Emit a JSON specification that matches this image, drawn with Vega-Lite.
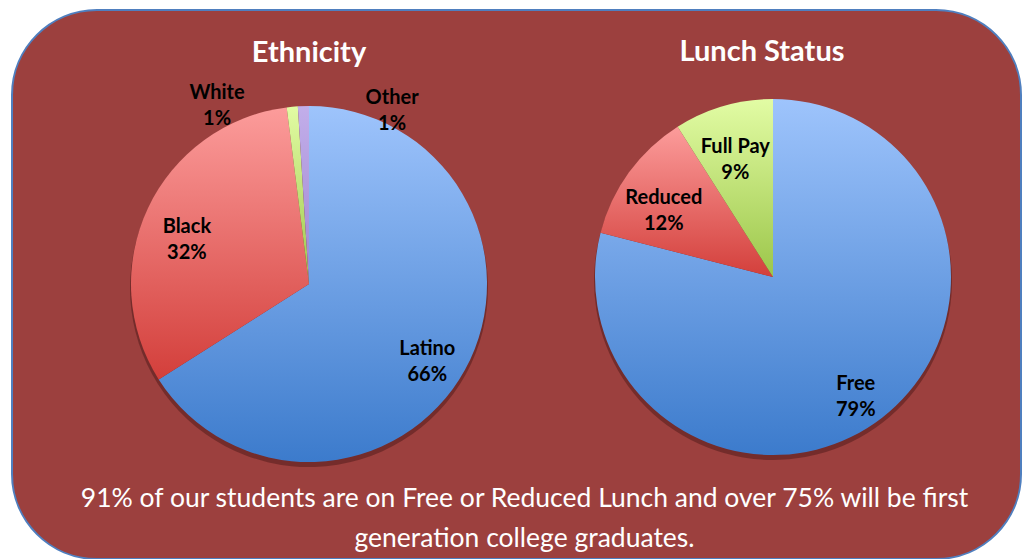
{
  "$schema": "https://vega.github.io/schema/vega-lite/v6.json",
  "width": 1009,
  "height": 549,
  "padding": {"left": 12, "top": 10, "right": 8, "bottom": 0},
  "background": "#ffffff",
  "config": {
    "view": {"fill": "#9C403E", "stroke": "#4F7FBF", "strokeWidth": 2, "cornerRadius": 85}
  },
  "title": {
    "text": ["91% of our students are on Free or Reduced Lunch and over 75% will be first", "generation college graduates."],
    "orient": "bottom",
    "anchor": "middle",
    "frame": "group",
    "offset": -73,
    "dx": 8,
    "color": "#ffffff",
    "font": "Lato",
    "fontSize": 26.5,
    "fontWeight": "normal",
    "lineHeight": 40
  },
  "data": {
    "values": [
      {"chart": "Ethnicity", "category": "Latino", "value": 66, "order": 1},
      {"chart": "Ethnicity", "category": "Black", "value": 32, "order": 2},
      {"chart": "Ethnicity", "category": "White", "value": 1, "order": 3},
      {"chart": "Ethnicity", "category": "Other", "value": 1, "order": 4},
      {"chart": "Lunch Status", "category": "Free", "value": 79, "order": 1},
      {"chart": "Lunch Status", "category": "Reduced", "value": 12, "order": 2},
      {"chart": "Lunch Status", "category": "Full Pay", "value": 9, "order": 3}
    ]
  },
  "transform": [
    {"stack": "value", "groupby": ["chart"], "sort": [{"field": "order", "order": "ascending"}], "as": ["start", "end"]},
    {"calculate": "(datum.start + datum.end) / 2", "as": "mid"},
    {"calculate": "datum.category + '\\n' + datum.value + '%'", "as": "label"}
  ],
  "encoding": {
    "x": {"field": "chart", "type": "nominal", "scale": {"type": "point", "padding": 0, "domain": ["Ethnicity", "Lunch Status"], "range": [297, 761]}, "axis": null},
    "y": {"field": "chart", "type": "nominal", "scale": {"type": "point", "padding": 0, "domain": ["Ethnicity", "Lunch Status"], "range": [274, 267]}, "axis": null}
  },
  "layer": [
    {
      "mark": {"type": "arc", "outerRadius": 179, "yOffset": 4, "fill": "#2a0808", "opacity": 0.35},
      "encoding": {
        "theta": {"field": "start", "type": "quantitative", "stack": null, "scale": {"domain": [0, 100]}},
        "theta2": {"field": "end"}
      }
    },
    {
      "mark": {"type": "arc", "outerRadius": 178},
      "encoding": {
        "theta": {"field": "start", "type": "quantitative", "stack": null, "scale": {"domain": [0, 100]}},
        "theta2": {"field": "end"},
        "fill": {
          "condition": [
            {"test": "datum.category === 'Latino' || datum.category === 'Free'", "value": {"gradient": "linear", "x1": 0, "y1": 0, "x2": 0, "y2": 1, "stops": [{"offset": 0, "color": "#9EC4FC"}, {"offset": 1, "color": "#3C7BCC"}]}},
            {"test": "datum.category === 'Black' || datum.category === 'Reduced'", "value": {"gradient": "linear", "x1": 0, "y1": 0, "x2": 0, "y2": 1, "stops": [{"offset": 0, "color": "#FC9C9B"}, {"offset": 1, "color": "#D33F3B"}]}},
            {"test": "datum.category === 'White' || datum.category === 'Full Pay'", "value": {"gradient": "linear", "x1": 0, "y1": 0, "x2": 0, "y2": 1, "stops": [{"offset": 0, "color": "#E2FCA4"}, {"offset": 1, "color": "#9CC64A"}]}}
          ],
          "value": {"gradient": "linear", "x1": 0, "y1": 0, "x2": 0, "y2": 1, "stops": [{"offset": 0, "color": "#C2AEEA"}, {"offset": 1, "color": "#9E86D0"}]}
        }
      }
    },
    {
      "transform": [{"filter": "datum.value >= 5"}],
      "mark": {"type": "text", "radius": 135, "font": "Lato", "fontSize": 20, "fontWeight": "bold", "color": "#000000", "lineBreak": "\n", "lineHeight": 26, "align": "center", "baseline": "middle"},
      "encoding": {
        "theta": {"field": "mid", "type": "quantitative", "stack": null, "scale": {"domain": [0, 100]}},
        "text": {"field": "label"}
      }
    },
    {
      "transform": [{"filter": "datum.category === 'White'"}],
      "mark": {"type": "text", "radius": 201, "thetaOffset": -0.381, "dy": -12, "font": "Lato", "fontSize": 20, "fontWeight": "bold", "color": "#000000", "lineBreak": "\n", "lineHeight": 26, "align": "center", "baseline": "middle"},
      "encoding": {
        "theta": {"field": "mid", "type": "quantitative", "stack": null, "scale": {"domain": [0, 100]}},
        "text": {"field": "label"}
      }
    },
    {
      "transform": [{"filter": "datum.category === 'Other'"}],
      "mark": {"type": "text", "radius": 194, "thetaOffset": 0.474, "dy": -11, "font": "Lato", "fontSize": 20, "fontWeight": "bold", "color": "#000000", "lineBreak": "\n", "lineHeight": 26, "align": "center", "baseline": "middle"},
      "encoding": {
        "theta": {"field": "mid", "type": "quantitative", "stack": null, "scale": {"domain": [0, 100]}},
        "text": {"field": "label"}
      }
    },
    {
      "transform": [{"filter": "datum.chart === 'Ethnicity' && datum.order === 1"}],
      "mark": {"type": "text", "radius": 231, "theta": 0, "font": "Lato", "fontSize": 29, "fontWeight": "bold", "color": "#ffffff", "align": "center", "baseline": "middle"},
      "encoding": {"text": {"field": "chart"}}
    },
    {
      "transform": [{"filter": "datum.chart === 'Lunch Status' && datum.order === 1"}],
      "mark": {"type": "text", "radius": 225, "theta": -0.049, "font": "Lato", "fontSize": 29, "fontWeight": "bold", "color": "#ffffff", "align": "center", "baseline": "middle"},
      "encoding": {"text": {"field": "chart"}}
    }
  ]
}
